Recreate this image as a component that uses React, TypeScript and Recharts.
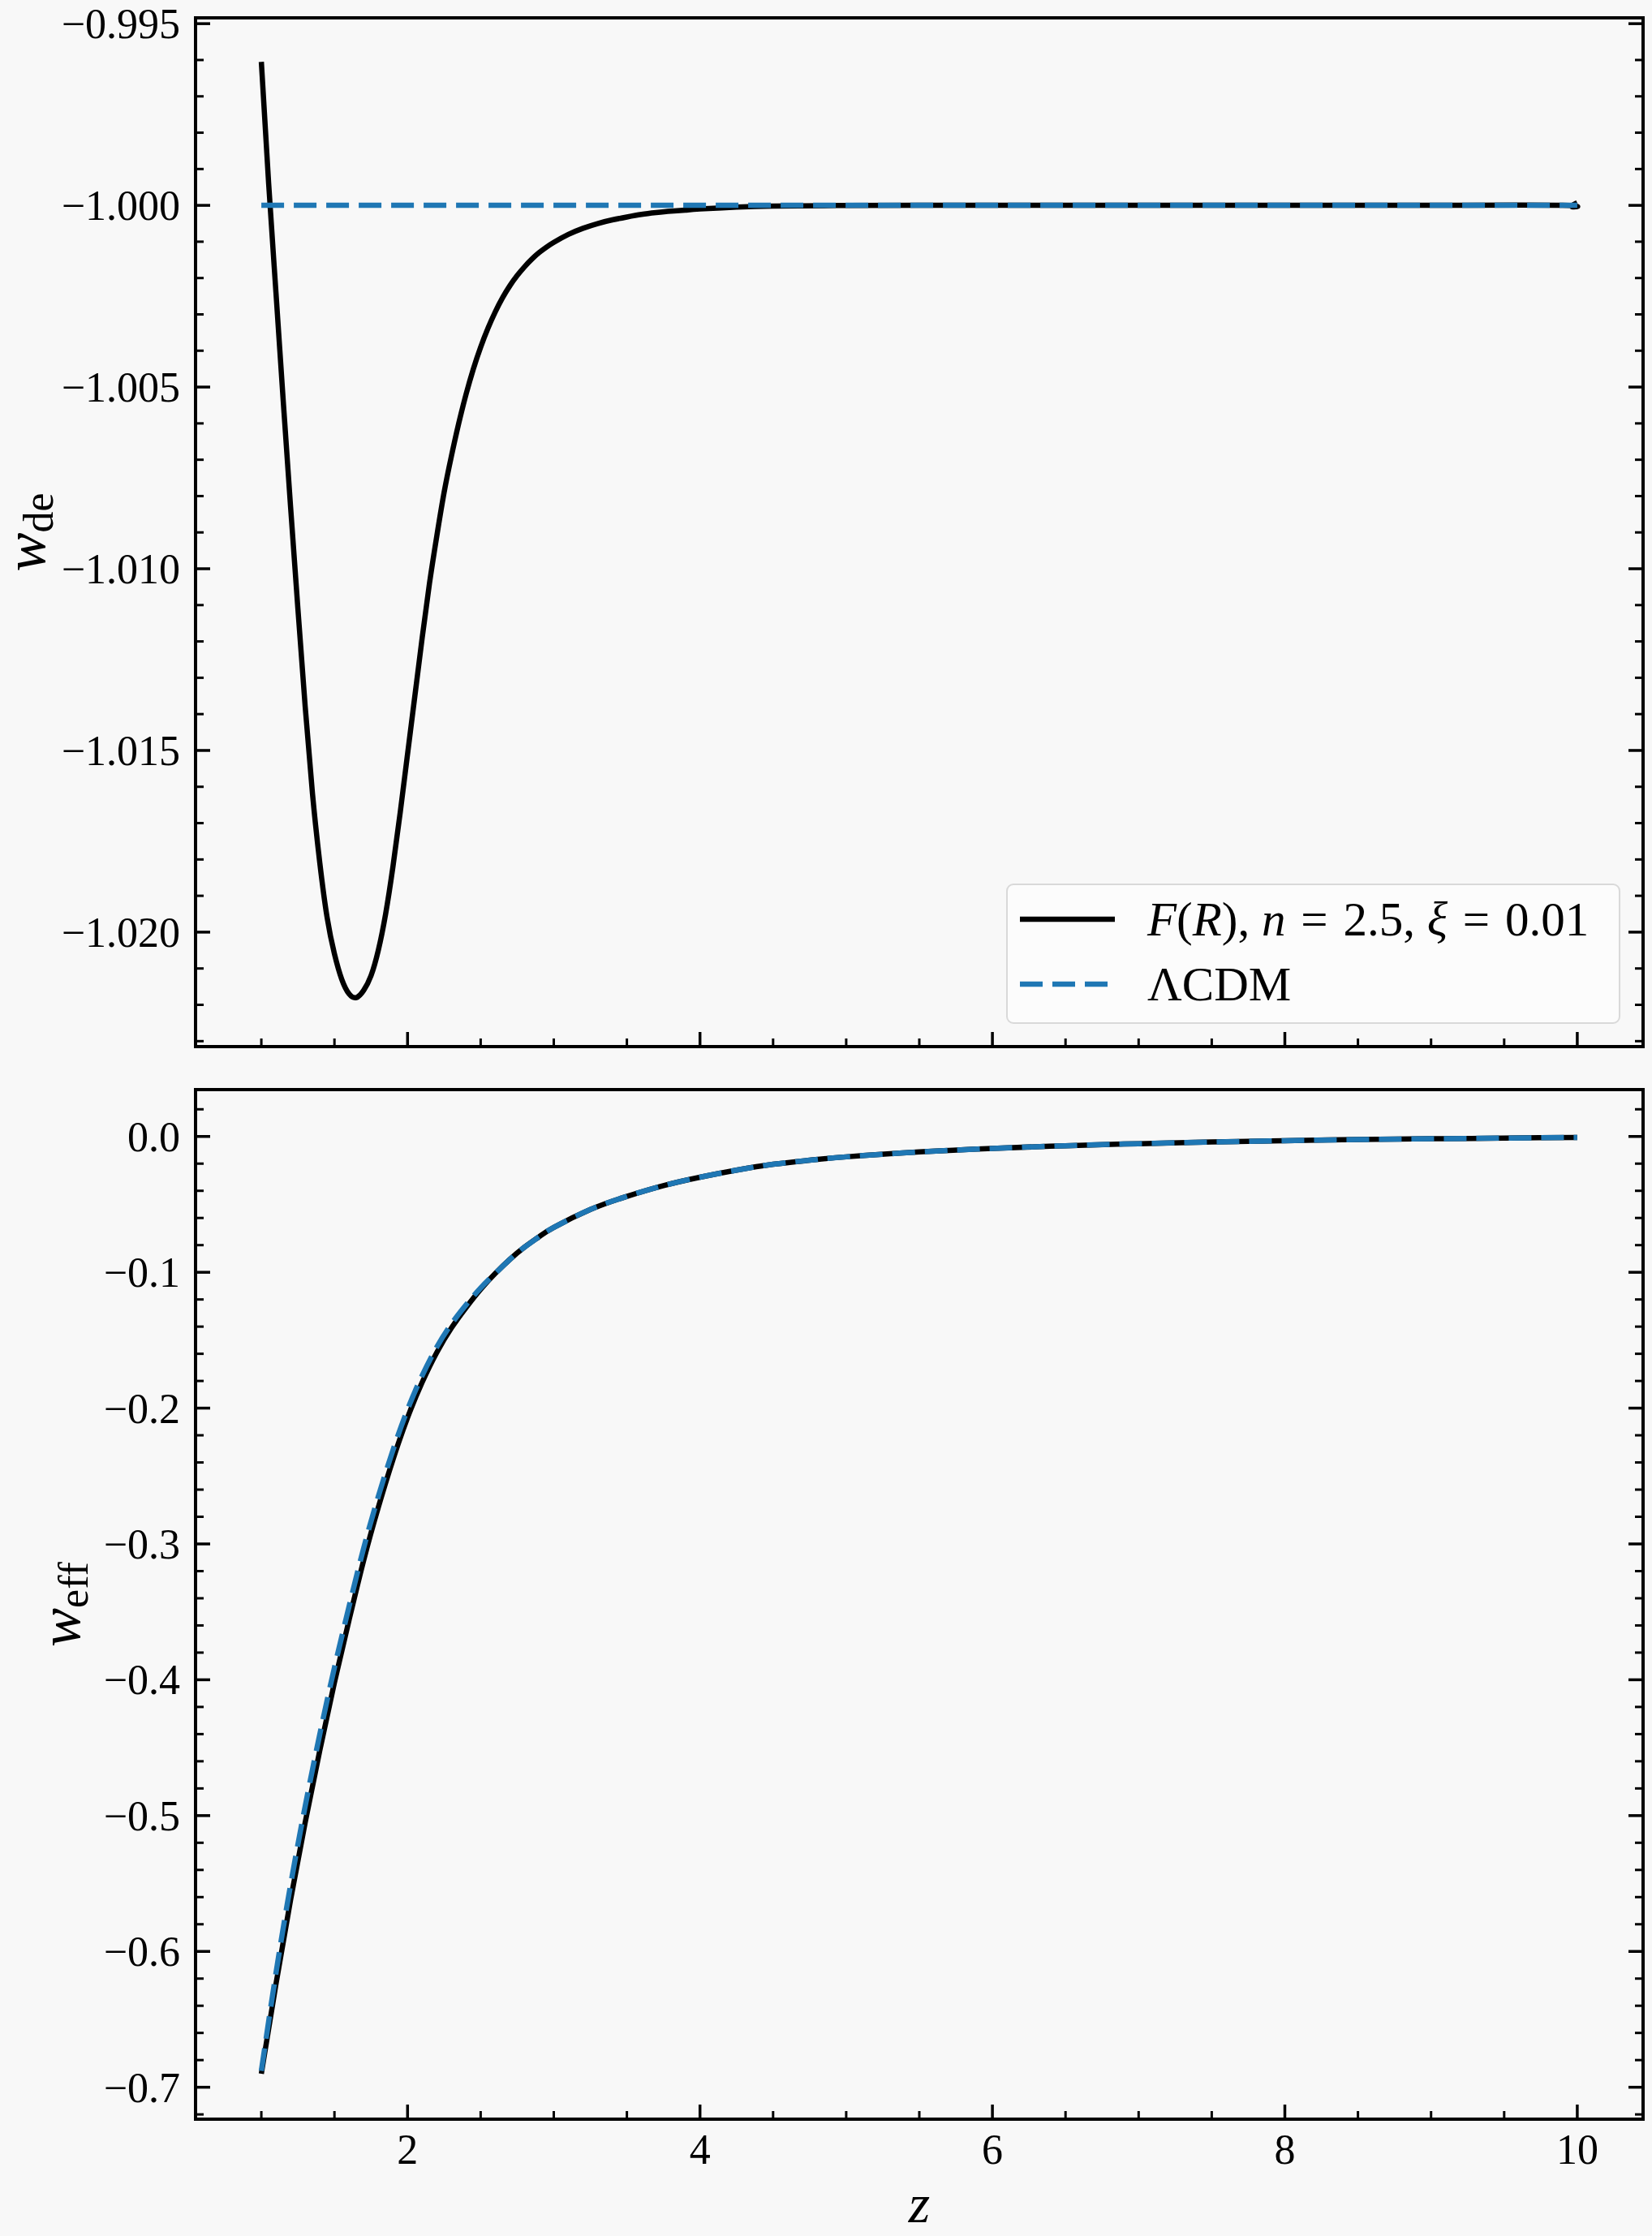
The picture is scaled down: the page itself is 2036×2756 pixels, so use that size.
import React from 'react';
import { LineChart, Line, XAxis, YAxis, Legend } from 'recharts';

const FONT = '"Liberation Serif", "Times New Roman", serif';
const BG = '#f8f8f8';
const BLUE = '#1f77b4';

// top panel: w_de(z)
const zTop = [1.0, 1.05, 1.1, 1.15, 1.2, 1.25, 1.3, 1.35, 1.4, 1.45, 1.5, 1.55, 1.6, 1.65, 1.7, 1.75, 1.8, 1.85, 1.9, 1.95, 2.0, 2.05, 2.1, 2.15, 2.2, 2.25, 2.3, 2.35, 2.4, 2.45, 2.5, 2.55, 2.6, 2.65, 2.7, 2.75, 2.8, 2.85, 2.9, 2.95, 3.0, 3.1, 3.2, 3.3, 3.4, 3.5, 3.6, 3.7, 3.8, 3.9, 4.0, 4.25, 4.5, 5.0, 5.5, 6.0, 7.0, 8.0, 9.0, 9.9, 9.97, 10.0];
const wdeFR = [-0.99605, -0.9994, -1.0024, -1.0054, -1.0083, -1.0111, -1.0138, -1.0162, -1.0181, -1.0196, -1.0206, -1.0213, -1.0217, -1.0218, -1.0216, -1.0212, -1.0205, -1.0195, -1.0182, -1.0167, -1.0151, -1.0135, -1.0119, -1.0104, -1.0091, -1.0079, -1.0069, -1.006, -1.0052, -1.0045, -1.0039, -1.00338, -1.00293, -1.00254, -1.00221, -1.00193, -1.00169, -1.00148, -1.0013, -1.00115, -1.00102, -1.0008, -1.00063, -1.0005, -1.0004, -1.00032, -1.00025, -1.0002, -1.00016, -1.00013, -1.0001, -1.00005, -1.00002, -1.000004, -1.0, -1.0, -1.0, -1.0, -1.0, -1.0, -1.00004, -0.99993];
const zLcdmTop = [1.0, 10.0];
const wdeLcdm = [-1.0, -1.0];

// bottom panel: w_eff(z)
const zBot = [1.0, 1.1, 1.2, 1.3, 1.4, 1.5, 1.6, 1.7, 1.8, 1.9, 2.0, 2.1, 2.2, 2.3, 2.4, 2.5, 2.6, 2.7, 2.8, 2.9, 3.0, 3.25, 3.5, 3.75, 4.0, 4.25, 4.5, 4.75, 5.0, 5.5, 6.0, 6.5, 7.0, 7.5, 8.0, 8.5, 9.0, 9.5, 10.0];
const weffFR = [-0.69, -0.624, -0.562, -0.505, -0.452, -0.402, -0.356, -0.312, -0.273, -0.238, -0.207, -0.181, -0.159, -0.141, -0.126, -0.1125, -0.1008, -0.0905, -0.0815, -0.0738, -0.067, -0.0538, -0.0441, -0.0362, -0.03, -0.0248, -0.0205, -0.0175, -0.015, -0.0114, -0.0088, -0.0068, -0.0053, -0.0041, -0.0031, -0.0023, -0.0017, -0.0012, -0.0007];
const weffLcdm = [-0.688, -0.616, -0.551, -0.493, -0.44, -0.391, -0.346, -0.303, -0.265, -0.231, -0.201, -0.176, -0.155, -0.138, -0.124, -0.1115, -0.1008, -0.0905, -0.0815, -0.0738, -0.067, -0.0538, -0.0441, -0.0362, -0.03, -0.0248, -0.0205, -0.0175, -0.015, -0.0114, -0.0088, -0.0068, -0.0053, -0.0041, -0.0031, -0.0023, -0.0017, -0.0012, -0.0007];

// axes
const zTicks = [2, 4, 6, 8, 10];
const wdeTicks = [-0.995, -1.0, -1.005, -1.01, -1.015, -1.02];
const weffTicks = [0, -0.1, -0.2, -0.3, -0.4, -0.5, -0.6, -0.7];
const X_DOMAIN: [number, number] = [0.55, 10.45];
const WDE_DOMAIN: [number, number] = [-1.02315, -0.99484];
const WEFF_DOMAIN: [number, number] = [-0.7235, 0.0345];

const labelFR = 'F(R), n = 2.5, ξ = 0.01';
const labelLcdm = 'ΛCDM';

const zip = (xs: number[], ys: number[]) => xs.map((z, i) => ({ z, w: ys[i] }));

// minor tick positions (every `step` inside the domain)
const steps = (lo: number, hi: number, step: number) => {
  const out: number[] = [];
  for (let k = Math.ceil(lo / step - 1e-9); k * step <= hi + 1e-9; k++) out.push(+(k * step).toFixed(6));
  return out;
};

const isMajor = (v: number, majors: number[]) => majors.some((m) => Math.abs(m - v) < 1e-9);
const minus = (v: number, d: number) => (Math.abs(v) < 1e-9 ? (0).toFixed(d) : (v < 0 ? '\u2212' : '') + Math.abs(v).toFixed(d));

const SPINE = { stroke: '#000', strokeWidth: 4, strokeLinecap: 'square' as const };
const TICK_FONT = 52;

// ticks point inward, labels sit outside (matplotlib style)
function makeTick(side: 'left' | 'right' | 'top' | 'bottom', majors: number[], fmt?: (v: number) => string) {
  return (props: any) => {
    const { x, y, payload } = props;
    const v = payload.value;
    const major = isMajor(v, majors);
    const len = major ? 18 : 10;
    const sw = major ? 3.5 : 3;
    let line;
    let label = null;
    if (side === 'left') {
      line = <line x1={x} y1={y} x2={x + len} y2={y} stroke="#000" strokeWidth={sw} />;
      if (fmt && major)
        label = (
          <text x={x - 19} y={y} dy={18} textAnchor="end" fontFamily={FONT} fontSize={TICK_FONT} fill="#000">
            {fmt(v)}
          </text>
        );
    } else if (side === 'right') {
      line = <line x1={x} y1={y} x2={x - len} y2={y} stroke="#000" strokeWidth={sw} />;
    } else if (side === 'top') {
      line = <line x1={x} y1={y} x2={x} y2={y + len} stroke="#000" strokeWidth={sw} />;
    } else {
      line = <line x1={x} y1={y} x2={x} y2={y - len} stroke="#000" strokeWidth={sw} />;
      if (fmt && major)
        label = (
          <text x={x} y={y + 55} textAnchor="middle" fontFamily={FONT} fontSize={TICK_FONT} fill="#000">
            {fmt(v)}
          </text>
        );
    }
    return (
      <g>
        {line}
        {label}
      </g>
    );
  };
}

const yTitle = (sub: string, baseX: number, fallbackY: number) => (props: any) => {
  const vb = props && props.viewBox;
  const cy = vb && typeof vb.y === 'number' ? vb.y + vb.height / 2 : fallbackY;
  return (
    <text x={baseX} y={cy} transform={`rotate(-90 ${baseX} ${cy})`} textAnchor="middle" fontFamily={FONT} fill="#000">
      <tspan fontSize={72} fontStyle="italic">w</tspan>
      <tspan fontSize={52} dy={10}>{sub}</tspan>
    </text>
  );
};

const zTitle = (props: any) => {
  const vb = props && props.viewBox;
  const cx = vb ? vb.x + vb.width / 2 : 1133;
  const by = vb ? vb.y + 127 : 1420;
  return (
    <text x={cx} y={by} textAnchor="middle" fontFamily={FONT} fontSize={68} fontStyle="italic" fill="#000">
      z
    </text>
  );
};

const xAll = steps(X_DOMAIN[0], X_DOMAIN[1], 0.5);

function frame(o: {
  yDomain: [number, number];
  yMajor: number[];
  yStep: number;
  yFmt: (v: number) => string;
  xLabels: boolean;
  yLabel: any;
  xLabel?: any;
}) {
  const yAll = steps(o.yDomain[0], o.yDomain[1], o.yStep);
  const common = { type: 'number' as const, allowDataOverflow: true, interval: 0 as const, tickSize: 0, tickMargin: 0, tickLine: false, axisLine: SPINE };
  return [
    <XAxis key="xb" {...common} xAxisId={0} dataKey="z" domain={X_DOMAIN} ticks={xAll} height={1}
      tick={makeTick('bottom', zTicks, o.xLabels ? (v) => String(v) : undefined)} label={o.xLabel} />,
    <XAxis key="xt" {...common} xAxisId="top" orientation="top" domain={X_DOMAIN} ticks={xAll} height={1}
      tick={makeTick('top', zTicks)} />,
    <YAxis key="yl" {...common} yAxisId={0} domain={o.yDomain} ticks={yAll} width={241}
      tick={makeTick('left', o.yMajor, o.yFmt)} label={o.yLabel} />,
    <YAxis key="yr" {...common} yAxisId="right" orientation="right" domain={o.yDomain} ticks={yAll} width={1}
      tick={makeTick('right', o.yMajor)} />,
  ];
}

// TeX-like legend text: lone letters italic, '=' with thick spaces
const renderMath = (s: string) => {
  const chars = Array.from(s);
  const isL = (ch?: string) => !!ch && /[A-Za-z\u0370-\u03FF]/.test(ch);
  return chars.map((c, i) => {
    if (c === ' ' && (chars[i + 1] === '=' || chars[i - 1] === '=')) return null;
    if (c === '=') return <span key={i} style={{ margin: '0 0.32em' }}>=</span>;
    if (isL(c) && !isL(chars[i - 1]) && !isL(chars[i + 1])) return <i key={i}>{c}</i>;
    return <span key={i}>{c}</span>;
  });
};

const renderLegend = (props: any) => (
  <div
    style={{
      boxSizing: 'border-box',
      width: 757,
      height: 173,
      background: '#fcfcfc',
      border: '2px solid #d9d9d9',
      borderRadius: 9,
      padding: '2px 0 0 15px',
      fontFamily: FONT,
      fontSize: 59,
      color: '#000',
    }}
  >
    {(props.payload || []).map((e: any) => (
      <div key={e.value} style={{ display: 'flex', alignItems: 'center', height: 80 }}>
        <svg width={117} height={20} style={{ marginRight: 40, flex: 'none' }}>
          <line x1={0} x2={117} y1={10} y2={10} stroke={e.color} strokeWidth={6.5} strokeDasharray={e.payload && e.payload.strokeDasharray} />
        </svg>
        <span style={{ whiteSpace: 'pre', lineHeight: 1 }}>{renderMath(String(e.value))}</span>
      </div>
    ))}
  </div>
);

export default function App() {
  return (
    <div style={{ position: 'absolute', left: 0, top: 0, width: 2036, height: 2756, background: BG, overflow: 'hidden' }}>
      <div style={{ position: 'absolute', left: 0, top: 0 }}>
        <LineChart width={2036} height={1320} margin={{ top: 21, right: 10, bottom: 29, left: 0 }}>
          {frame({
            yDomain: WDE_DOMAIN,
            yMajor: wdeTicks,
            yStep: 0.001,
            yFmt: (v) => minus(v, 3),
            xLabels: false,
            yLabel: yTitle('de', 55, 656),
          })}
          <Line data={zip(zTop, wdeFR)} dataKey="w" name={labelFR} type="natural" stroke="#000" strokeWidth={6.5} dot={false} isAnimationActive={false} />
          <Line data={zip(zLcdmTop, wdeLcdm)} dataKey="w" name={labelLcdm} type="linear" stroke={BLUE} strokeWidth={6.5} strokeDasharray="28 12" dot={false} isAnimationActive={false} />
          <Legend content={renderLegend} layout="vertical" align="center" verticalAlign="middle" wrapperStyle={{ left: 1240, top: 1089, width: 757 }} />
        </LineChart>
      </div>
      <div style={{ position: 'absolute', left: 0, top: 1320 }}>
        <LineChart width={2036} height={1436} margin={{ top: 22, right: 10, bottom: 143, left: 0 }}>
          {frame({
            yDomain: WEFF_DOMAIN,
            yMajor: weffTicks,
            yStep: 0.02,
            yFmt: (v) => minus(v, 1),
            xLabels: true,
            yLabel: yTitle('eff', 98, 657),
            xLabel: zTitle,
          })}
          <Line data={zip(zBot, weffFR)} dataKey="w" name={labelFR} type="natural" stroke="#000" strokeWidth={6.5} dot={false} isAnimationActive={false} />
          <Line data={zip(zBot, weffLcdm)} dataKey="w" name={labelLcdm} type="natural" stroke={BLUE} strokeWidth={6.5} strokeDasharray="28 12" dot={false} isAnimationActive={false} />
        </LineChart>
      </div>
    </div>
  );
}
